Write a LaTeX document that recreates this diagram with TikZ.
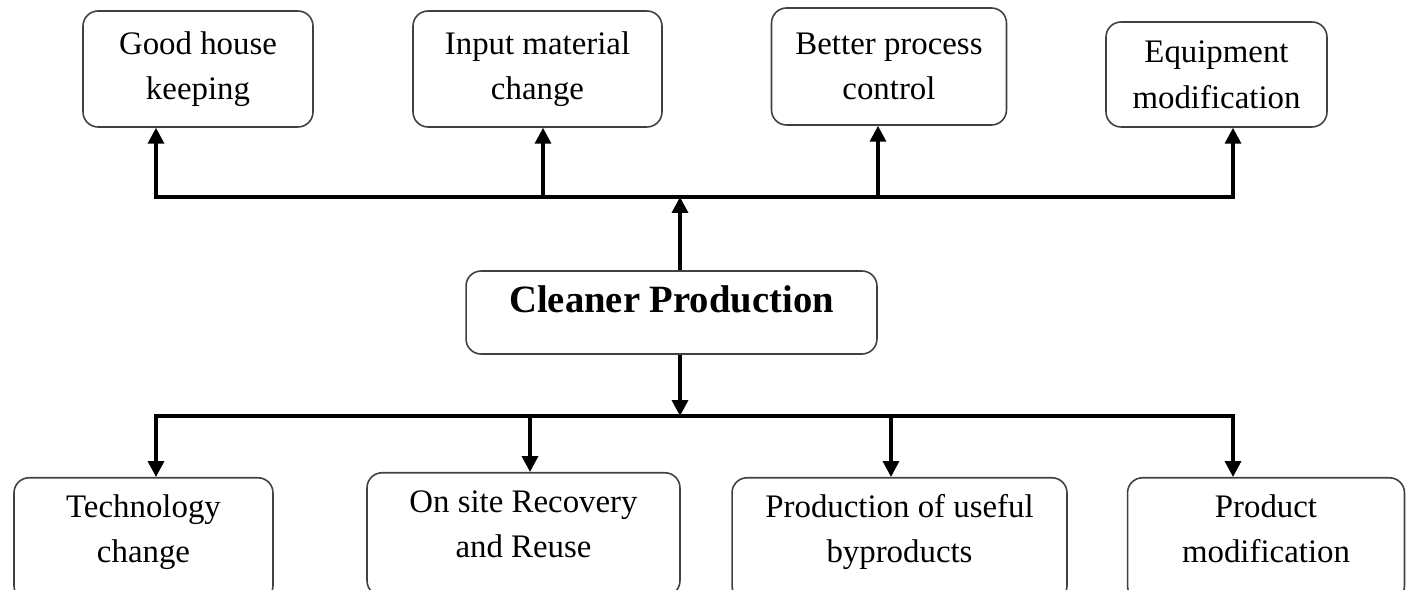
\documentclass[tikz,border=0pt]{standalone}
\usepackage{fontspec}
\setmainfont{Liberation Serif}
\usetikzlibrary{arrows.meta}

\tikzset{
  item/.style={draw=black!75, line width=0.9pt, rounded corners=0.3cm, align=center,
    inner sep=0pt, font=\fontsize{18.7}{26}\selectfont},
  lower/.style={item, anchor=north, minimum height=2.46cm, text height=1.4cm, text depth=0.46cm},
  link/.style={line width=2pt, -{Triangle[length=9pt,width=9pt]}},
  twoway/.style={line width=2pt, {Triangle[length=9pt,width=9pt]}-{Triangle[length=9pt,width=9pt]}},
}

\begin{document}
\begin{tikzpicture}[x=0.02cm, y=-0.02cm]
    \useasboundingbox (0,0) rectangle (1420,590);
    % Top row
    \node[item, minimum width=4.6cm, minimum height=2.32cm] (house) at (198,69) {Good house\\keeping};
    \node[item, minimum width=4.98cm, minimum height=2.32cm] (input) at (537.5,69) {Input material\\change};
    \node[item, minimum width=4.7cm, minimum height=2.34cm] (control) at (889,66.5) {Better process\\control};
    \node[item, minimum width=4.42cm, minimum height=2.1cm] (equip) at (1216.5,74.5) {Equipment\\modification};
    % Centre
    \node[item, font=\fontsize{22}{26}\selectfont\bfseries, minimum width=8.22cm, minimum height=1.66cm,
      text height=0.52cm, text depth=0.52cm] (cp) at (671.5,312.5) {Cleaner Production};
    % Bottom row
    \node[lower, minimum width=5.18cm] (tech) at (143.5,477) {Technology\\change};
    \node[lower, minimum width=6.26cm] (reuse) at (523.5,472) {On site Recovery\\and Reuse};
    \node[lower, minimum width=6.7cm] (byprod) at (899.5,477) {Production of useful\\byproducts};
    \node[lower, minimum width=5.54cm] (prod) at (1266,477) {Product\\modification};
    % Junctions
    \coordinate (j1) at (156,197);
    \coordinate (j2) at (543,197);
    \coordinate (j3) at (878,197);
    \coordinate (j4) at (1233,197);
    \coordinate (up) at (680,197);
    \coordinate (k1) at (156,416);
    \coordinate (k2) at (530,416);
    \coordinate (k3) at (891,416);
    \coordinate (k4) at (1233,416);
    \coordinate (down) at (680,416);
    % Upper branch
    \draw[link] (cp.north -| up) -- (up);
    \draw[twoway] (house.south -| j1) -- (j1) -- (j4) -- (equip.south -| j4);
    \draw[link] (j2) -- (input.south -| j2);
    \draw[link] (j3) -- (control.south -| j3);
    % Lower branch
    \draw[link] (cp.south -| down) -- (down);
    \draw[twoway] (tech.north -| k1) -- (k1) -- (k4) -- (prod.north -| k4);
    \draw[link] (k2) -- (reuse.north -| k2);
    \draw[link] (k3) -- (byprod.north -| k3);
\end{tikzpicture}
\end{document}
